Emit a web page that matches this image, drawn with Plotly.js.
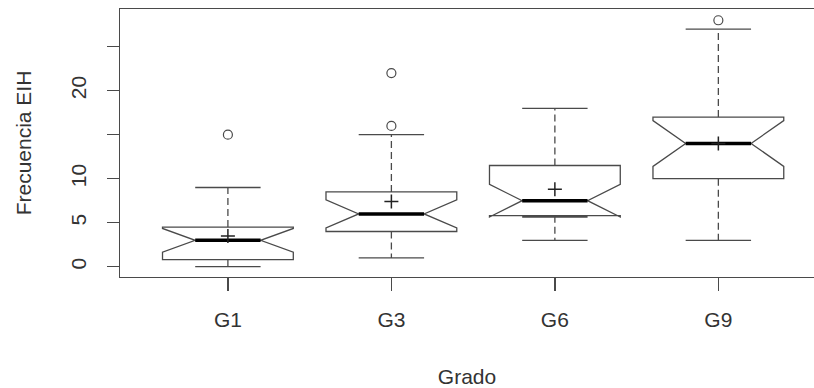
<!DOCTYPE html>
<html>
<head>
<meta charset="utf-8">
<script src="https://cdn.plot.ly/plotly-3.0.1.min.js"></script>
<style>html,body{margin:0;padding:0;background:#fff;}#chart{width:814px;height:388px;}</style>
</head>
<body>
<div id="chart"></div>
<script>
// Data
const categories = ['G1', 'G3', 'G6', 'G9'];
const q1Vals     = [0.8, 4, 5.8, 10];
const medianVals = [3, 6, 7.5, 14];
const q3Vals     = [4.5, 8.5, 11.5, 17];
const lowerWhisk = [0, 1, 3, 3];
const upperWhisk = [9, 15, 18, 27];
const notchSpans = [1.35, 1.6, 1.85, 2.6];
const meanVals   = [3.5, 7.4, 8.8, 14];
const outlierCat = ['G1', 'G3', 'G3', 'G9'];
const outlierVal = [15, 16, 22, 28];
const yTickVals  = [0, 5, 10, 15, 20, 25];
const yTickText  = ['0', '5', '10', '', '20', ''];

const pos = categories.map((c, i) => i + 1);
const boxW = 0.8;
const half = boxW / 4;
const lineCol = '#4a4a4a';
const textCol = '#333333';
const font = {family: 'Liberation Sans, Arial, sans-serif', size: 21, color: textCol};

const traces = [];
// notched boxes
traces.push({
  type: 'box', x: pos, q1: q1Vals, median: medianVals, q3: q3Vals,
  lowerfence: q1Vals, upperfence: q3Vals, notchspan: notchSpans,
  notched: true, notchwidth: 0.25, width: boxW,
  fillcolor: 'rgba(0,0,0,0)', line: {color: lineCol, width: 1.3},
  boxpoints: false, hoverinfo: 'skip', showlegend: false
});
// dashed whiskers
const wx = [], wy = [];
pos.forEach((p, i) => {
  wx.push(p, p, null, p, p, null);
  wy.push(q3Vals[i], upperWhisk[i], null, q1Vals[i], lowerWhisk[i], null);
});
traces.push({type: 'scatter', mode: 'lines', x: wx, y: wy,
  line: {color: lineCol, width: 1.3, dash: '7px,4px'}, hoverinfo: 'skip', showlegend: false});
// staples
const sx = [], sy = [];
pos.forEach((p, i) => {
  sx.push(p - half, p + half, null, p - half, p + half, null);
  sy.push(upperWhisk[i], upperWhisk[i], null, lowerWhisk[i], lowerWhisk[i], null);
});
traces.push({type: 'scatter', mode: 'lines', x: sx, y: sy,
  line: {color: lineCol, width: 1.3}, hoverinfo: 'skip', showlegend: false});
// thick medians
const mx = [], my = [];
pos.forEach((p, i) => {
  mx.push(p - half, p + half, null);
  my.push(medianVals[i], medianVals[i], null);
});
traces.push({type: 'scatter', mode: 'lines', x: mx, y: my,
  line: {color: '#000', width: 3.5}, hoverinfo: 'skip', showlegend: false});
// means
traces.push({type: 'scatter', mode: 'markers', x: pos, y: meanVals,
  marker: {symbol: 'cross-thin-open', size: 10, color: '#222', line: {color: '#222', width: 1.5}},
  hoverinfo: 'skip', showlegend: false});
// outliers
traces.push({type: 'scatter', mode: 'markers',
  x: outlierCat.map(c => categories.indexOf(c) + 1), y: outlierVal,
  marker: {symbol: 'circle-open', size: 9, color: lineCol, line: {color: lineCol, width: 1.2}},
  hoverinfo: 'skip', showlegend: false});

const layout = {
  width: 814, height: 388,
  margin: {l: 120, r: 0, t: 9, b: 111},
  paper_bgcolor: '#fff', plot_bgcolor: '#fff',
  font: font,
  showlegend: false,
  xaxis: {
    range: [0.34, 4.585], tickvals: pos, ticktext: categories,
    showgrid: false, zeroline: false,
    showline: true, mirror: true, linecolor: lineCol, linewidth: 1.3,
    ticks: 'outside', ticklen: 13, tickcolor: lineCol, tickwidth: 1.3,
    tickfont: font, ticklabelstandoff: 10,
    title: {text: 'Grado', font: font, standoff: 40}
  },
  yaxis: {
    range: [-1.17, 29.28], tickvals: yTickVals, ticktext: yTickText,
    showgrid: false, zeroline: false,
    showline: true, mirror: false, linecolor: lineCol, linewidth: 1.3,
    ticks: 'outside', ticklen: 12, tickcolor: lineCol, tickwidth: 1.3,
    tickangle: -90, tickfont: font, ticklabelstandoff: 12,
    title: {text: 'Frecuencia EIH', font: font, standoff: 30}
  }
};

Plotly.newPlot('chart', traces, layout, {staticPlot: true, displayModeBar: false});
</script>
</body>
</html>
